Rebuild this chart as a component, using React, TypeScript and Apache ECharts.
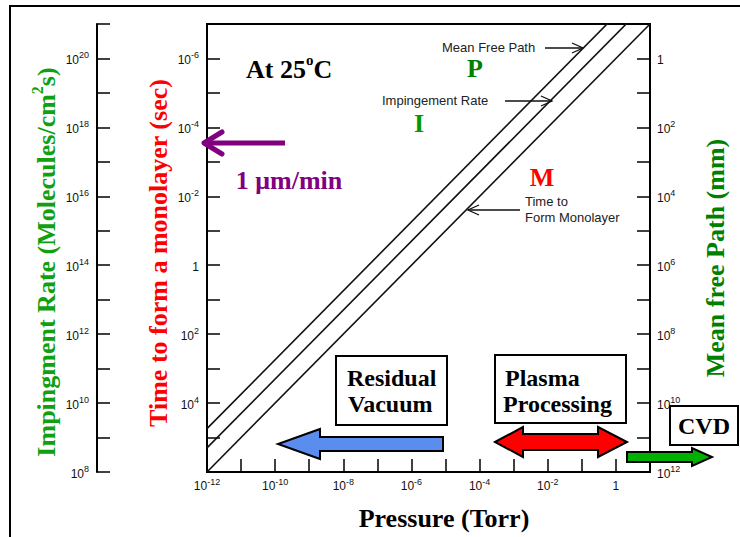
import React, { useEffect, useRef } from "react";
import * as echarts from "echarts";

// ---- data ----
const pressureTorr = [1e-12, 10];
const monolayerTimeSec = [1e6, 1e-7];
const impingementRate = [5e8, 5e21];
const meanFreePathMm = [5.5e10, 5.5e-3];

// ---- tick labels (exponents of 10 that carry a label) ----
const pressureLabelExps = [-12, -10, -8, -6, -4, -2, 0];
const timeLabelExps = [-6, -4, -2, 0, 2, 4];
const rateLabelExps = [8, 10, 12, 14, 16, 18, 20];
const mfpLabelExps = [0, 2, 4, 6, 8, 10, 12];

const SERIF = "'Liberation Serif', 'Times New Roman', serif";
const SANS = "'Liberation Sans', Arial, sans-serif";

const tickRich = {
  b: { fontSize: 12, fontFamily: SANS, color: "#111", lineHeight: 15, verticalAlign: "bottom" },
  s: { fontSize: 9, fontFamily: SANS, color: "#111", verticalAlign: "top" },
};

const makeFmt = (exps: number[]) => (value: number) => {
  const e = Math.round(Math.log10(value));
  if (!exps.includes(e)) return "";
  if (e === 0) return "{b|1}";
  return `{b|10}{s|${e}}`;
};

const axisLineStyle = { color: "#000", width: 2 };
const tickStyle = { color: "#000", width: 1.5 };

export default function App() {
  const ref = useRef<HTMLDivElement>(null);
  useEffect(() => {
    if (!ref.current) return;
    const chart = echarts.init(ref.current, null, { renderer: "svg" });
    const bigText = (text: string, x: number, y: number, color: string, extra: any = {}) => ({
      type: "text",
      x,
      y,
      z: 100,
      ...extra,
      style: {
        text,
        fill: color,
        fontSize: 26,
        fontWeight: "bold",
        fontFamily: SERIF,
        textAlign: "center",
        textVerticalAlign: "middle",
        ...(extra.style || {}),
      },
    });
    const smallText = (text: string, x: number, y: number) => ({
      type: "text",
      x,
      y,
      z: 100,
      style: {
        text,
        fill: "#222",
        fontSize: 13,
        fontFamily: SANS,
        textAlign: "left",
        textVerticalAlign: "middle",
      },
    });
    const thinArrow = (x1: number, y1: number, x2: number, y2: number) => {
      const dir = x2 > x1 ? 1 : -1;
      return [
        { type: "line", z: 100, shape: { x1, y1, x2, y2 }, style: { stroke: "#111", lineWidth: 1.3 } },
        {
          type: "polyline",
          z: 100,
          shape: { points: [[x2 - dir * 11, y2 - 5], [x2, y2], [x2 - dir * 11, y2 + 5]] },
          style: { stroke: "#111", lineWidth: 1.3, fill: "none" },
        },
      ];
    };
    const box = (x: number, y: number, w: number, h: number) => ({
      type: "rect",
      z: 100,
      shape: { x, y, width: w, height: h },
      style: { fill: "#fff", stroke: "#000", lineWidth: 2 },
    });
    const boxText = (text: string, x: number, y: number, align = "left") => ({
      type: "text",
      x,
      y,
      z: 101,
      style: {
        text,
        fill: "#000",
        fontSize: 24,
        fontWeight: "bold",
        fontFamily: SERIF,
        textAlign: align,
        textVerticalAlign: "middle",
      },
    });

    const option: any = {
      animation: false,
      backgroundColor: "#fff",
      grid: {
        left: 207,
        top: 24,
        width: 443,
        height: 448,
        show: true,
        borderColor: "#000",
        borderWidth: 2,
        backgroundColor: "transparent",
        containLabel: false,
        outerBoundsMode: "none",
      },
      xAxis: [
        {
          type: "log",
          logBase: 10,
          min: 1e-12,
          max: 10,
          interval: 1,
          splitNumber: 13,
          axisLine: { show: true, onZero: false, lineStyle: axisLineStyle },
          axisTick: { show: true, inside: true, length: 13, lineStyle: tickStyle },
          axisLabel: { margin: 5, formatter: makeFmt(pressureLabelExps), rich: tickRich },
          splitLine: { show: false },
          minorTick: { show: false },
        },
      ],
      yAxis: [
        {
          type: "log",
          logBase: 10,
          min: 1e-7,
          max: 1e6,
          interval: 1,
          splitNumber: 13,
          inverse: true,
          position: "left",
          axisLine: { show: true, onZero: false, lineStyle: axisLineStyle },
          axisTick: { show: true, inside: true, length: 13, lineStyle: tickStyle },
          axisLabel: { margin: 8, formatter: makeFmt(timeLabelExps), rich: tickRich },
          splitLine: { show: false },
        },
        {
          type: "log",
          logBase: 10,
          min: 1e8,
          max: 1e21,
          interval: 1,
          splitNumber: 13,
          position: "left",
          offset: 110,
          axisLine: { show: true, onZero: false, lineStyle: axisLineStyle },
          axisTick: { show: true, inside: true, length: 13, lineStyle: tickStyle },
          axisLabel: { margin: 8, formatter: makeFmt(rateLabelExps), rich: tickRich },
          splitLine: { show: false },
        },
        {
          type: "log",
          logBase: 10,
          min: 0.1,
          max: 1e12,
          interval: 1,
          splitNumber: 13,
          inverse: true,
          position: "right",
          axisLine: { show: true, onZero: false, lineStyle: axisLineStyle },
          axisTick: { show: true, inside: true, length: 13, lineStyle: tickStyle },
          axisLabel: { margin: 7, formatter: makeFmt(mfpLabelExps), rich: tickRich },
          splitLine: { show: false },
        },
      ],
      series: [
        {
          name: "Time to Form Monolayer",
          type: "line",
          xAxisIndex: 0,
          yAxisIndex: 0,
          data: pressureTorr.map((p, i) => [p, monolayerTimeSec[i]]),
          showSymbol: false,
          clip: true,
          lineStyle: { color: "#111", width: 1.6 },
        },
        {
          name: "Impingement Rate",
          type: "line",
          xAxisIndex: 0,
          yAxisIndex: 1,
          data: pressureTorr.map((p, i) => [p, impingementRate[i]]),
          showSymbol: false,
          clip: true,
          lineStyle: { color: "#111", width: 1.6 },
        },
        {
          name: "Mean Free Path",
          type: "line",
          xAxisIndex: 0,
          yAxisIndex: 2,
          data: pressureTorr.map((p, i) => [p, meanFreePathMm[i]]),
          showSymbol: false,
          clip: true,
          lineStyle: { color: "#111", width: 1.6 },
        },
      ],
      graphic: [
        {
          type: "rect",
          z: 50,
          shape: { x: 10, y: 6, width: 800, height: 600 },
          style: { fill: "none", stroke: "#000", lineWidth: 2 },
        },
        // axis titles
        bigText("", 44, 262, "#10a010", {
          rotation: Math.PI / 2,
          style: {
            text: "{a|Impingment Rate (Molecules/cm}{s|2}{a|s)}",
            rich: {
              a: { fontSize: 26, fontWeight: "bold", fontFamily: SERIF, fill: "#10a010", color: "#10a010", lineHeight: 30, verticalAlign: "bottom" },
              s: { fontSize: 16, fontWeight: "bold", fontFamily: SERIF, fill: "#10a010", color: "#10a010", verticalAlign: "top" },
            },
          },
        }),
        bigText("Time to form a monolayer (sec)", 158, 253, "#ff0000", { rotation: Math.PI / 2 }),
        bigText("Mean free Path (mm)", 715, 258, "#008000", { rotation: Math.PI / 2 }),
        bigText("Pressure (Torr)", 444, 518, "#000"),
        // annotations
        {
          type: "text",
          x: 246,
          y: 67,
          z: 100,
          style: {
            text: "{a|At 25}{s|o}{a|C}",
            textAlign: "left",
            textVerticalAlign: "middle",
            rich: {
              a: { fontSize: 26, fontWeight: "bold", fontFamily: SERIF, fill: "#000", color: "#000", lineHeight: 30, verticalAlign: "bottom" },
              s: { fontSize: 15, fontWeight: "bold", fontFamily: SERIF, fill: "#000", color: "#000", verticalAlign: "top" },
            },
          },
        },
        bigText("P", 475, 68, "#008000"),
        bigText("I", 419, 123, "#009a00"),
        bigText("M", 542, 177, "#ff0000"),
        bigText("1 \u03bcm/min", 289, 180, "#800080"),
        {
          type: "line",
          z: 100,
          shape: { x1: 285, y1: 143, x2: 206, y2: 143 },
          style: { stroke: "#800080", lineWidth: 5 },
        },
        {
          type: "polyline",
          z: 100,
          shape: { points: [[222, 132], [204, 143], [222, 154]] },
          style: { stroke: "#800080", lineWidth: 5, fill: "none", lineCap: "round", lineJoin: "round" },
        },
        smallText("Mean Free Path", 442, 47),
        ...thinArrow(545, 48, 583, 48),
        smallText("Impingement Rate", 382, 100),
        ...thinArrow(505, 101, 552, 101),
        smallText("Time to", 525, 201),
        smallText("Form Monolayer", 525, 217),
        ...thinArrow(520, 210, 468, 210),
        // boxes
        box(336, 356, 111, 69),
        boxText("Residual", 347, 378),
        boxText("Vacuum", 348, 404),
        box(495, 355, 131, 68),
        boxText("Plasma", 505, 378),
        boxText("Processing", 503, 404),
        box(670, 406, 68, 39),
        boxText("CVD", 704, 426, "center"),
        // arrows
        {
          type: "polygon",
          z: 100,
          shape: {
            points: [[443, 437], [320, 437], [320, 429], [278, 444], [320, 459], [320, 451], [443, 451]],
          },
          style: { fill: "#5b8def", stroke: "#000", lineWidth: 2 },
        },
        {
          type: "polygon",
          z: 100,
          shape: {
            points: [
              [495, 442], [523, 427], [523, 434], [598, 434], [598, 427],
              [627, 442], [598, 457], [598, 450], [523, 450], [523, 457],
            ],
          },
          style: { fill: "#ff0000", stroke: "#000", lineWidth: 2 },
        },
        {
          type: "polygon",
          z: 100,
          shape: {
            points: [[627, 452], [692, 452], [692, 448], [712, 457], [692, 466], [692, 462], [627, 462]],
          },
          style: { fill: "#00b000", stroke: "#000", lineWidth: 2 },
        },
      ],
    };
    chart.setOption(option);
    return () => chart.dispose();
  }, []);
  return (
    <div
      ref={ref}
      style={{ position: "fixed", left: 0, top: 0, width: 740, height: 537, background: "#fff" }}
    />
  );
}
